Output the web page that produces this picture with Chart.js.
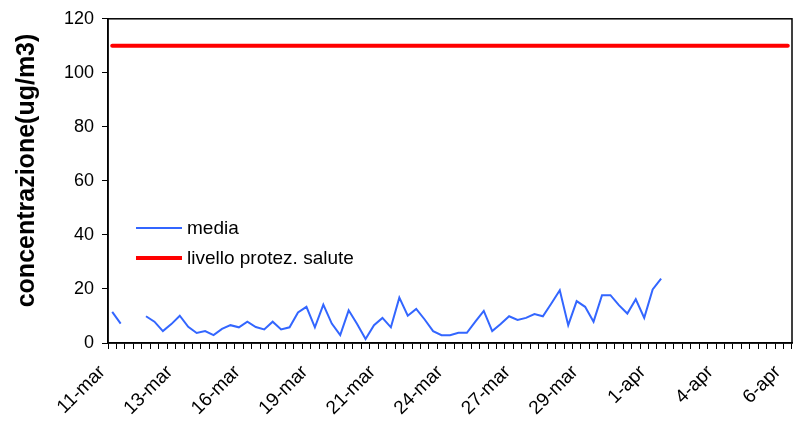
<!DOCTYPE html>
<html>
<head>
<meta charset="utf-8">
<script src="https://cdn.jsdelivr.net/npm/chart.js@4/dist/chart.umd.min.js"></script>
<style>
  html, body { margin: 0; padding: 0; background: #fff; }
  #wrap { width: 796px; height: 423px; position: relative; }
</style>
</head>
<body>
<div id="wrap"><canvas id="chart"></canvas></div>
<script>
// 3 readings per day (every 8 hours), a date label every 8 readings
const tickLabels = ["11-mar", "13-mar", "16-mar", "19-mar", "21-mar", "24-mar", "27-mar", "29-mar", "1-apr", "4-apr", "6-apr"];
const slotCount = 81;
const labelEvery = 8;

const media = [
  11.5, 7.2, null, null, 9.9, 7.9, 4.4, 7.0, 10.1, 6.0,
  3.7, 4.4, 2.9, 5.2, 6.6, 5.8, 7.9, 5.9, 5.0, 7.9,
  5.0, 5.8, 11.3, 13.4, 5.8, 14.2, 7.2, 2.9, 12.1, 7.0,
  1.5, 6.6, 9.3, 5.8, 16.8, 10.1, 12.6, 8.7, 4.4, 2.9,
  2.9, 3.8, 3.8, 7.9, 11.9, 4.4, 7.0, 9.9, 8.5, 9.3,
  10.7, 9.9, 14.6, 19.5, 6.6, 15.5, 13.4, 7.9, 17.7, 17.7,
  14.0, 10.9, 16.2, 9.3, 19.8, 23.8
];
const limiteSalute = 110;

const categories = Array.from({ length: slotCount }, (_, i) => i % labelEvery === 0 ? tickLabels[i / labelEvery] : "");
const limiteValues = categories.map(() => limiteSalute);

const FONT = "'Liberation Sans', Arial, sans-serif";

// box around the plot area
const frame = {
  id: "frame",
  afterDraw(chart) {
    const { ctx, chartArea: a } = chart;
    ctx.save();
    ctx.strokeStyle = "#000";
    ctx.lineWidth = 1.5;
    ctx.strokeRect(a.left, a.top, a.right - a.left, a.bottom - a.top);
    ctx.restore();
  }
};

// legend sitting inside the plot, like the original
const innerLegend = {
  id: "innerLegend",
  afterDraw(chart) {
    const ctx = chart.ctx;
    ctx.save();
    ctx.font = "19px " + FONT;
    ctx.textBaseline = "middle";
    ctx.fillStyle = "#000";
    chart.data.datasets.forEach((ds, i) => {
      const y = 228 + i * 30;
      ctx.strokeStyle = ds.borderColor;
      ctx.lineWidth = ds.borderWidth;
      ctx.beginPath();
      ctx.moveTo(136, y);
      ctx.lineTo(182, y);
      ctx.stroke();
      ctx.fillText(ds.label, 187, y + 1);
    });
    ctx.restore();
  }
};

new Chart(document.getElementById("chart"), {
  type: "line",
  data: {
    labels: categories,
    datasets: [{
      label: "media",
      data: media,
      borderColor: "#3366FF",
      borderWidth: 2,
      pointRadius: 0,
      spanGaps: false,
      tension: 0
    }, {
      label: "livello protez. salute",
      data: limiteValues,
      borderColor: "#FF0000",
      borderWidth: 4,
      borderCapStyle: "round",
      pointRadius: 0
    }]
  },
  options: {
    responsive: true,
    maintainAspectRatio: false,
    animation: false,
    layout: { padding: { top: 17, right: 4, left: 0, bottom: 0 } },
    plugins: {
      legend: { display: false },
      tooltip: { enabled: false }
    },
    scales: {
      x: {
        type: "category",
        offset: true,
        grid: { offset: true, drawOnChartArea: false, tickLength: 6, color: "#000", lineWidth: 1 },
        border: { color: "#000", width: 1.5 },
        ticks: {
          autoSkip: false,
          maxRotation: 45,
          minRotation: 45,
          color: "#000",
          font: { family: FONT, size: 19 },
          padding: 12,
          labelOffset: -10
        },
        afterFit: s => { s.height = 80; s.paddingLeft = 0; s.paddingRight = 0; }
      },
      y: {
        min: 0,
        max: 120,
        grid: { drawOnChartArea: false, tickLength: 6, color: "#000" },
        border: { color: "#000", width: 1.5 },
        ticks: { stepSize: 20, color: "#000", font: { family: FONT, size: 18 }, padding: 8 },
        title: {
          display: true,
          // leading spaces nudge the title a bit above the axis centre, as in the original
          text: "\u00a0\u00a0\u00a0concentrazione(ug/m3)",
          color: "#000",
          font: { family: FONT, size: 25, weight: "bold" },
          padding: { top: 12, bottom: 0 }
        },
        afterFit: s => { s.width = 108; }
      }
    }
  },
  plugins: [frame, innerLegend]
});
</script>
</body>
</html>
